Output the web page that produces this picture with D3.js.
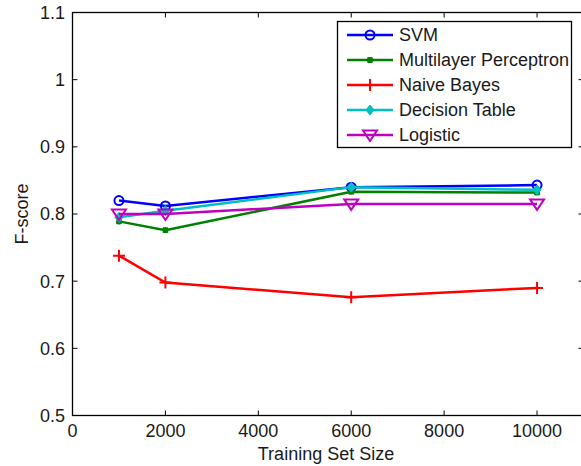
<!DOCTYPE html>
<html>
<head>
<meta charset="utf-8">
<script src="https://cdn.jsdelivr.net/npm/d3@7"></script>
<style>
  body { margin: 0; background: #fff; }
  svg text { font-family: "Liberation Sans", Arial, sans-serif; fill: #1a1a1a; }
</style>
</head>
<body>
<svg class="target" width="581" height="466"></svg>
<script>
const sizes = [1000, 2000, 6000, 10000];
const svmScores = [0.820, 0.812, 0.840, 0.843];
const mlpScores = [0.789, 0.776, 0.833, 0.832];
const nbScores = [0.738, 0.698, 0.676, 0.690];
const dtScores = [0.795, 0.805, 0.840, 0.836];
const logScores = [0.800, 0.800, 0.815, 0.815];
const xTicks = [0, 2000, 4000, 6000, 8000, 10000];
const yTicks = [0.5, 0.6, 0.7, 0.8, 0.9, 1, 1.1];

const series = [
  { name: "SVM", values: svmScores, color: "#0000ff", marker: "circle" },
  { name: "Multilayer Perceptron", values: mlpScores, color: "#008000", marker: "star" },
  { name: "Naive Bayes", values: nbScores, color: "#ff0000", marker: "plus" },
  { name: "Decision Table", values: dtScores, color: "#00bfbf", marker: "diamond" },
  { name: "Logistic", values: logScores, color: "#bf00bf", marker: "triangle" },
];

const plotL = 72.5, plotR = 583.5, plotT = 12.5, plotB = 415.5;
const svg = d3.select(".target");

const x = d3.scaleLinear().domain([0, 11000]).range([plotL, plotR]);
const y = d3.scaleLinear().domain([0.5, 1.1]).range([plotB, plotT]);

// frame with inward ticks like matlab
const frame = svg.append("g");
frame.append("rect")
  .attr("x", plotL).attr("y", plotT)
  .attr("width", plotR - plotL).attr("height", plotB - plotT)
  .attr("fill", "none").attr("stroke", "#000").attr("stroke-width", 1.3);

xTicks.forEach(t => {
  frame.append("line").attr("x1", x(t)).attr("x2", x(t)).attr("y1", plotB).attr("y2", plotB - 5)
    .attr("stroke", "#000");
  frame.append("line").attr("x1", x(t)).attr("x2", x(t)).attr("y1", plotT).attr("y2", plotT + 5)
    .attr("stroke", "#000");
  frame.append("text").attr("x", x(t)).attr("y", 437)
    .attr("text-anchor", "middle").style("font-size", "18px").text(t);
});
yTicks.forEach(t => {
  frame.append("line").attr("x1", plotL).attr("x2", plotL + 5).attr("y1", y(t)).attr("y2", y(t))
    .attr("stroke", "#000");
  frame.append("line").attr("x1", plotR).attr("x2", plotR - 5).attr("y1", y(t)).attr("y2", y(t))
    .attr("stroke", "#000");
  frame.append("text").attr("x", 65).attr("y", y(t)).attr("dy", "0.36em")
    .attr("text-anchor", "end").style("font-size", "18px").text(d3.format("~g")(t));
});

svg.append("text").attr("x", (plotL + plotR) / 2 - 2).attr("y", 460)
  .attr("text-anchor", "middle").style("font-size", "18px").text("Training Set Size");
svg.append("text").attr("transform", "translate(28,214) rotate(-90)")
  .attr("text-anchor", "middle").style("font-size", "18px").text("F-score");

function drawMarker(g, type, color) {
  if (type === "circle") {
    g.append("circle").attr("r", 4.5).attr("fill", "none").attr("stroke", color).attr("stroke-width", 2);
  } else if (type === "star") {
    g.append("path").attr("d", "M-3,0H3M0,-3V3M-2.5,-2.5L2.5,2.5M-2.5,2.5L2.5,-2.5")
      .attr("stroke", color).attr("stroke-width", 2);
  } else if (type === "plus") {
    g.append("path").attr("d", "M-6,0H6M0,-6V6").attr("stroke", color).attr("stroke-width", 2);
  } else if (type === "diamond") {
    g.append("path").attr("d", "M0,-5L4,0L0,5L-4,0Z").attr("fill", color).attr("stroke", color).attr("stroke-width", 1);
  } else if (type === "triangle") {
    g.append("path").attr("d", "M-7,-4.5H7L0,6Z").attr("fill", "none").attr("stroke", color).attr("stroke-width", 2);
  }
}

const line = d3.line().x((d, i) => x(sizes[i])).y(d => y(d));

series.forEach(s => {
  svg.append("path").datum(s.values)
    .attr("d", line).attr("fill", "none")
    .attr("stroke", s.color).attr("stroke-width", 2.5);
  s.values.forEach((v, i) => {
    const g = svg.append("g").attr("transform", `translate(${x(sizes[i])},${y(v)})`);
    drawMarker(g, s.marker, s.color);
  });
});

// legend
const legend = svg.append("g");
legend.append("rect").attr("x", 337.5).attr("y", 21.5).attr("width", 234).attr("height", 126)
  .attr("fill", "#fff").attr("stroke", "#000").attr("stroke-width", 1.3);
series.forEach((s, i) => {
  const ly = 35 + i * 25;
  legend.append("line").attr("x1", 347).attr("x2", 393).attr("y1", ly).attr("y2", ly)
    .attr("stroke", s.color).attr("stroke-width", 2.5);
  drawMarker(legend.append("g").attr("transform", `translate(370,${ly})`), s.marker, s.color);
  legend.append("text").attr("x", 399).attr("y", ly).attr("dy", "0.36em")
    .style("font-size", "18px").text(s.name);
});
</script>
</body>
</html>
